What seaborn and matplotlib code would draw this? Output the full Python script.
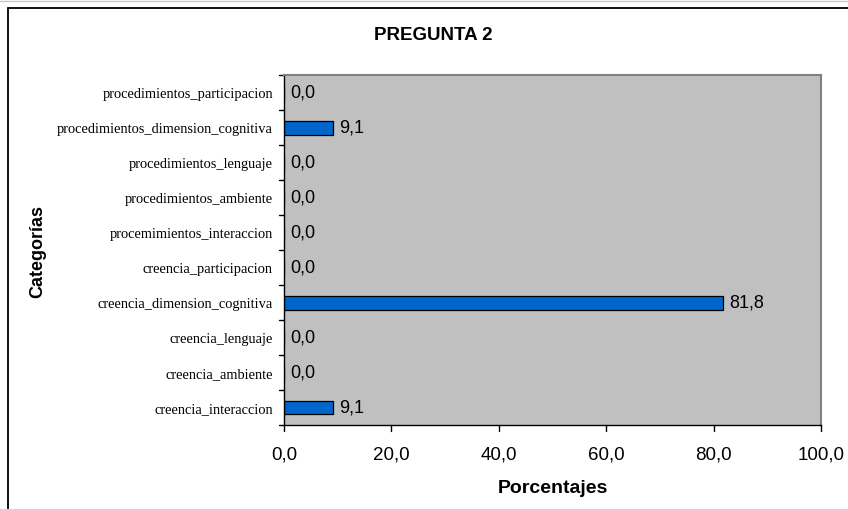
import matplotlib
matplotlib.use("Agg")
import matplotlib.pyplot as plt
import seaborn as sns
import pandas as pd
from matplotlib.patches import Rectangle
from matplotlib.lines import Line2D

categories = [
    "procedimientos_participacion",
    "procedimientos_dimension_cognitiva",
    "procedimientos_lenguaje",
    "procedimientos_ambiente",
    "procemimientos_interaccion",
    "creencia_participacion",
    "creencia_dimension_cognitiva",
    "creencia_lenguaje",
    "creencia_ambiente",
    "creencia_interaccion",
]
values = [0.0, 9.1, 0.0, 0.0, 0.0, 0.0, 81.8, 0.0, 0.0, 9.1]
x_ticks = [0, 20, 40, 60, 80, 100]
title = "PREGUNTA 2"
x_label = "Porcentajes"
y_label = "Categorías"

df = pd.DataFrame({"cat": categories, "val": values})

sns.set_theme(style="white")
plt.rcParams["font.family"] = ["Liberation Sans", "DejaVu Sans"]

W, H = 848, 510
fig = plt.figure(figsize=(W / 100, H / 100), dpi=100)
ax = fig.add_axes([284 / W, 1 - 426 / H, (821 - 284) / W, (426 - 76) / H])

sns.barplot(data=df, x="val", y="cat", order=categories, orient="h",
            color="#0066CC", edgecolor="black", linewidth=0.9,
            width=0.4, saturation=1, ax=ax)

ax.set_facecolor("#C0C0C0")
ax.set_xlim(0, 100)
ax.set_ylim(len(categories) - 0.5, -0.5)
ax.set_xticks(x_ticks)
ax.set_xticklabels([f"{v:.1f}".replace(".", ",") for v in x_ticks],
                   fontsize=13.5, color="black")
ax.set_yticks(range(len(categories)))
ax.set_yticklabels(categories, family=["Liberation Serif", "DejaVu Serif"],
                   fontsize=10.4, color="black")
ax.tick_params(axis="y", length=0, pad=8)
ax.tick_params(axis="x", length=0, pad=15)
ax.set_xlabel("")
ax.set_ylabel("")

# boundary ticks on the category axis, ticks on the value axis
for b in [i - 0.5 for i in range(len(categories) + 1)]:
    ax.plot([-0.9, 0], [b, b], color="black", lw=1, clip_on=False)
for t in x_ticks:
    ax.plot([t, t], [len(categories) - 0.5, len(categories) - 0.5 + 0.17],
            color="black", lw=1, clip_on=False)

for s in ["top", "right"]:
    ax.spines[s].set_color("#808080")
    ax.spines[s].set_linewidth(1.5)
for s in ["left", "bottom"]:
    ax.spines[s].set_color("black")
    ax.spines[s].set_linewidth(1)
    ax.spines[s].set_visible(True)

for i, v in enumerate(values):
    ax.text(v + 1.2, i, f"{v:.1f}".replace(".", ","), va="center", ha="left",
            fontsize=13, color="black")

fig.text(553 / W, 1 - 489 / H, x_label, ha="center", va="center",
         fontsize=14, fontweight="bold", color="black")
fig.text(38 / W, 1 - 251 / H, y_label, ha="center", va="center",
         rotation=90, fontsize=13, fontweight="bold", color="black")
fig.text(433 / W, 1 - 36 / H, title, ha="center", va="center",
         fontsize=13.5, fontweight="bold", color="black")

fig.patches.append(Rectangle((8 / W, -0.05), 900 / W, 1.05 - 9 / H,
                             transform=fig.transFigure, fill=False,
                             edgecolor="black", lw=1.3))
fig.lines.append(Line2D([0, 1], [1 - 2 / H, 1 - 2 / H],
                        transform=fig.transFigure, color="#C8C8C8", lw=1))

fig.savefig("out.png", dpi=100)
